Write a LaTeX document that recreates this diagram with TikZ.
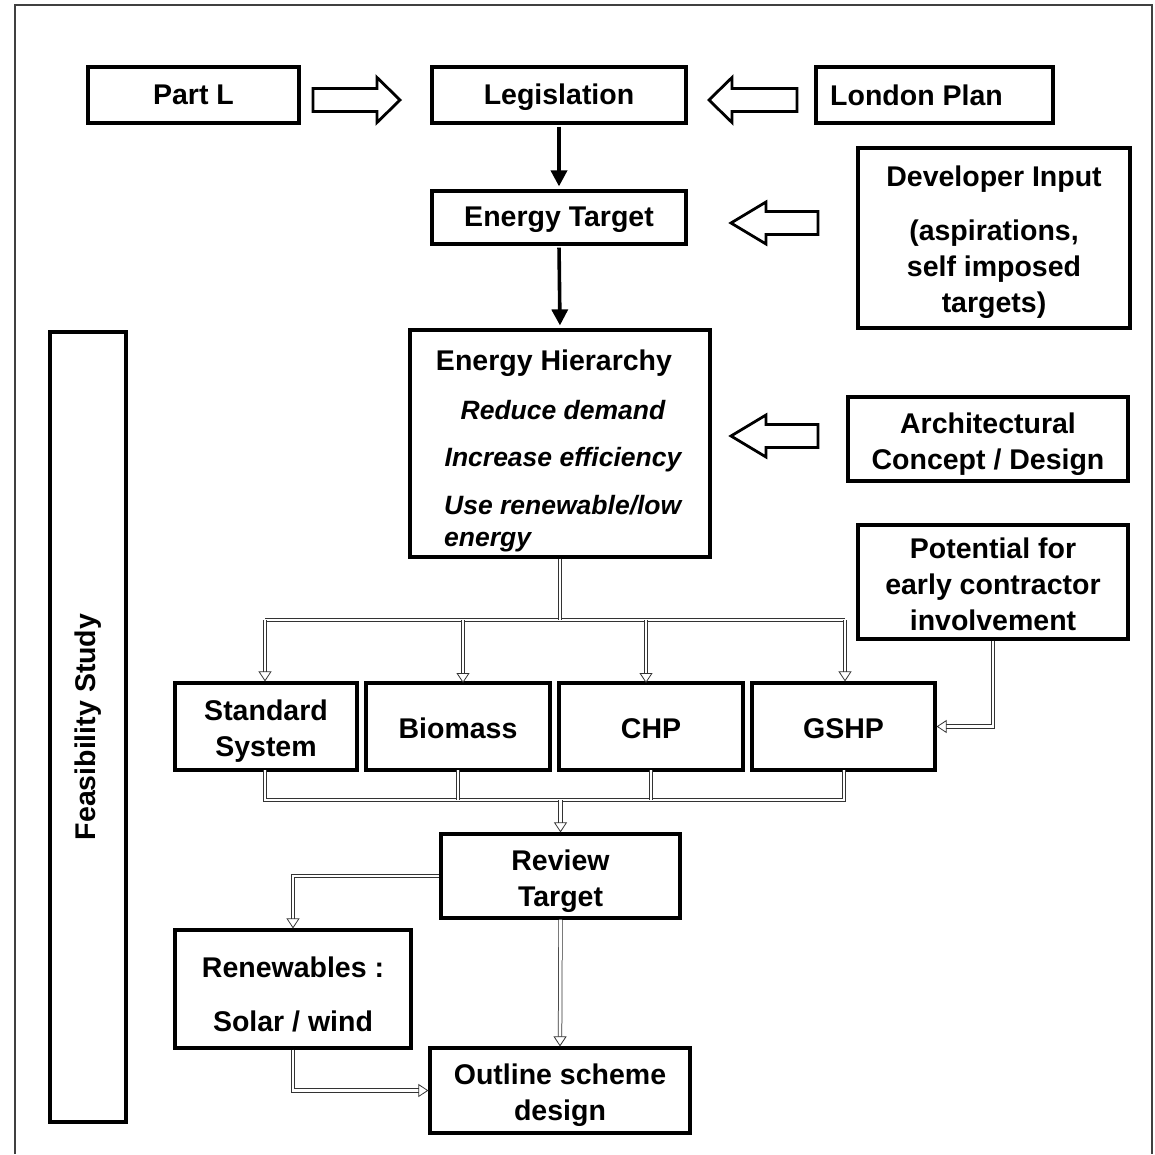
\documentclass[tikz,border=0pt]{standalone}
\usepackage{fontspec}
\setmainfont{Liberation Sans}
\usetikzlibrary{arrows.meta,calc}
\begin{document}
\begin{tikzpicture}[x=1pt,y=-1pt,
  box/.style={draw, line width=3.2pt, inner sep=0pt},
  lbl/.style={inner sep=0pt, align=center, font=\fontsize{28.5}{36}\selectfont\bfseries},
  T/.style={label={[lbl, yshift=-2pt]center:#1}},
  M/.style={label={[lbl, yshift=-5pt]center:#1}},
  txt/.style={inner sep=0pt, anchor=base, font=\fontsize{28.5}{36}\selectfont\bfseries},
  itxt/.style={inner sep=0pt, anchor=base, font=\fontsize{26.5}{32}\selectfont\bfseries\itshape},
  fat/.style={draw, line width=2.8pt, line join=miter, fill=white},
  thickarr/.style={line width=3.6pt, -{Triangle[length=16pt,width=16pt]}, shorten >=3pt, shorten <=2pt},
  dl/.style={draw=black!80, line width=0.75pt, double=white, double distance=2.8pt},
  dla/.style={dl, -{Triangle[open,length=10pt,width=13pt,line width=0.8pt]}},
  frame/.style={draw=black!75, line width=1.2pt}
]
\useasboundingbox (0,0) rectangle (1155,1154);
\newcommand\fatarrow[6]{% tail, base, tip, y, shaft half, head half
  \draw[fat] (#1,#4-#5) -- (#2,#4-#5) -- (#2,#4-#6) -- (#3,#4) -- (#2,#4+#6) -- (#2,#4+#5) -- (#1,#4+#5) -- cycle;}

% outer frame (no bottom)
\draw[frame] (15,1154) -- (15,5) -- (1152,5) -- (1152,1154);

% boxes
\node[box, minimum width=211, minimum height=56, label={[lbl]center:Part L}] (partl) at (193.5,95) {};
\node[box, minimum width=254, minimum height=56, T={Legislation}] (leg) at (559,95) {};
\node[box, minimum width=237, minimum height=56] (london) at (934.5,95) {};
\node[txt, anchor=base west] (londontxt) at (830,105) {London Plan};
\node[box, minimum width=254, minimum height=53, T={Energy Target}] (et) at (559,217.5) {};
\node[box, minimum width=272, minimum height=180,
  label={[lbl, yshift=-4pt]center:{Developer Input\\[18pt](aspirations,\\self imposed\\targets)}}] (dev) at (994,238) {};
\node[box, minimum width=300, minimum height=227] (hier) at (560,443.5) {};
\node[txt] (hiert) at (554,370) {Energy Hierarchy};
\node[itxt] (h1) at (563,419.5) {Reduce demand};
\node[itxt] (h2) at (563,466.5) {Increase efficiency};
\node[itxt, anchor=base west] (h3) at (444,514.5) {Use renewable/low};
\node[itxt, anchor=base west] (h4) at (444,546.5) {energy};
\node[box, minimum width=280, minimum height=84, M={Architectural\\Concept / Design}] (arch) at (988,439) {};
\node[box, minimum width=270, minimum height=114,
  label={[lbl, yshift=-2pt]center:{Potential for\\early contractor\\involvement}}] (pot) at (993,582) {};
\node[box, minimum width=182, minimum height=87, M={Standard\\System}] (std) at (266,726.5) {};
\node[box, minimum width=184, minimum height=87, T={Biomass}] (bio) at (458,726.5) {};
\node[box, minimum width=184, minimum height=87, T={CHP}] (chp) at (651,726.5) {};
\node[box, minimum width=183, minimum height=87, T={GSHP}] (gshp) at (843.5,726.5) {};
\node[box, minimum width=239, minimum height=84, M={Review\\Target}] (review) at (560.5,876) {};
\node[box, minimum width=236, minimum height=118, M={Renewables :\\[18pt]Solar / wind}] (ren) at (293,989) {};
\node[box, minimum width=260, minimum height=85, M={Outline scheme\\design}] (outline) at (560,1090.5) {};
\node[box, minimum width=76, minimum height=790] (feas) at (88,727) {};
\node[txt, anchor=center, rotate=90] (feast) at (feas.center) {Feasibility Study};

% hollow fat arrows
\fatarrow{313}{377}{400}{100}{11.5}{22.5}
\fatarrow{797}{732}{709}{100}{11.5}{22.5}
\fatarrow{818}{766}{731}{223}{11.5}{21}
\fatarrow{818}{766}{731}{436}{11.5}{21}

% thick black arrows
\draw[thickarr] (leg.south) -- (et.north);
\draw[thickarr] (et.south) -- (hier.north);

% distribution bus
\coordinate (busA) at (265,620);
\coordinate (busB) at (845,620);
\draw[dl] (busA) -- (busB);
\draw[dl] (hier.south) -- (hier.south |- busA);
\draw[dla] (busA) -- (busA |- std.north);
\draw[dla] (463,620) -- (463,683);
\draw[dla] (646,620) -- (646,683);
\draw[dla] (busB) -- (busB |- gshp.north);

% collection bus
\coordinate (cbA) at (265,800);
\coordinate (cbB) at (844,800);
\draw[dl] (265,770) -- (cbA) -- (cbB) -- (844,770);
\draw[dl] (458,770) -- (458,800);
\draw[dl] (651,770) -- (651,800);
\draw[dla] (review.north |- cbA) -- (review.north);

% contractor to GSHP
\draw[dla] (pot.south) |- (gshp.east);

% review to renewables and outline
\draw[dla] (review.west) -| (ren.north);
\draw[dla] (review.south) -- (outline.north);
\draw[dla] (ren.south) |- (outline.west);
\end{tikzpicture}
\end{document}
